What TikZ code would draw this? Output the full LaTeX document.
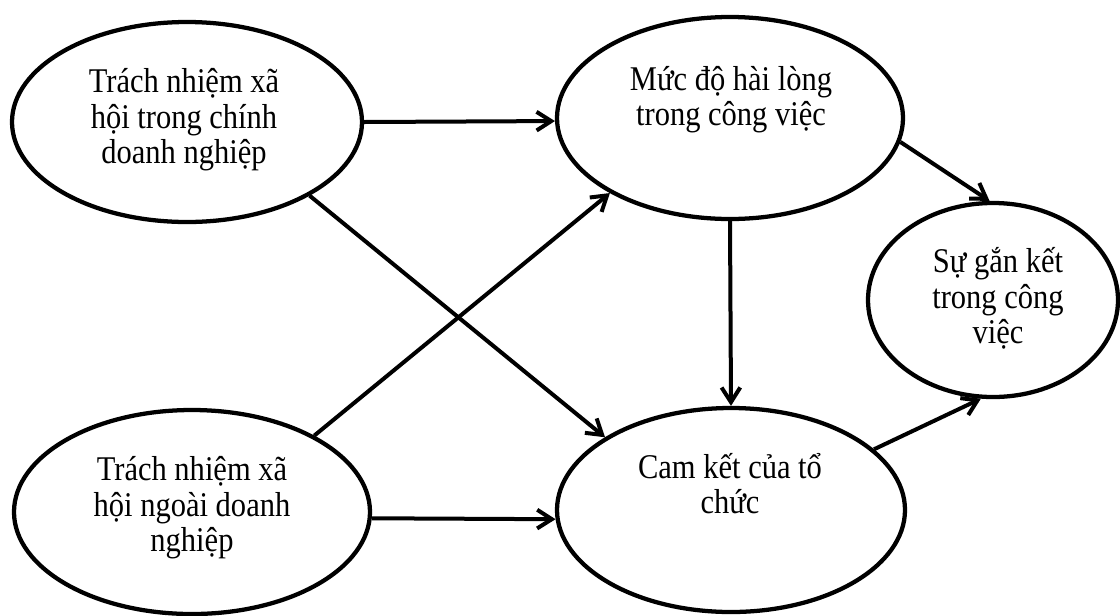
\documentclass[tikz,border=0pt]{standalone}
\usepackage{fontspec}
\usepackage{graphicx}
\setmainfont{Liberation Serif}
\usetikzlibrary{shapes.geometric,arrows.meta}
\newcommand{\narrowtext}[1]{\scalebox{0.88}[1]{\begin{tabular}{@{}c@{}}#1\end{tabular}}}
\tikzset{
  bub/.style={ellipse, draw=black, line width=3.2pt, fill=white, inner sep=0pt},
  lbl/.style={align=center, font=\fontsize{26}{26.5}\selectfont, inner sep=0pt},
  arr/.style={line width=3pt, -{Straight Barb[length=11pt,width=14pt,line width=3pt]}}
}
\begin{document}
\begin{tikzpicture}[x=0.75pt,y=-0.75pt]
\useasboundingbox (0,0) rectangle (1120,615);
\node[bub, minimum width=262.5pt, minimum height=150pt] (e1) at (187,122) {};
\node[bub, minimum width=259.5pt, minimum height=151.5pt] (e2) at (730,118) {};
\node[bub, minimum width=187.5pt, minimum height=145.5pt] (e3) at (993,300) {};
\node[bub, minimum width=267pt, minimum height=153pt] (e4) at (192,512) {};
\node[bub, minimum width=261pt, minimum height=153pt] (e5) at (731,510) {};
\node[lbl] (t1) at (184,121) {\narrowtext{Trách nhiệm xã\\hội trong chính\\doanh nghiệp}};
\node[lbl] (t2) at (731,101) {\narrowtext{Mức độ hài lòng\\trong công việc}};
\node[lbl] (t3) at (998,301) {\narrowtext{Sự gắn kết\\trong công\\việc}};
\node[lbl] (t4) at (192,509) {\narrowtext{Trách nhiệm xã\\hội ngoài doanh\\nghiệp}};
\node[lbl] (t5) at (730,489) {\narrowtext{Cam kết của tổ\\chức}};
\draw[arr] (e1.east) -- (e2.181);
\draw[arr] (e1.-31) -- (e5.150);
\draw[arr] (e4.32) -- (e2.-148);
\draw[arr] (e2.south) -- (e5.north);
\draw[arr] (e4.-2) -- (e5.183);
\draw[arr] (e2.-8) -- (e3.92);
\draw[arr] (e5.23) -- (e3.-97);
\end{tikzpicture}
\end{document}
